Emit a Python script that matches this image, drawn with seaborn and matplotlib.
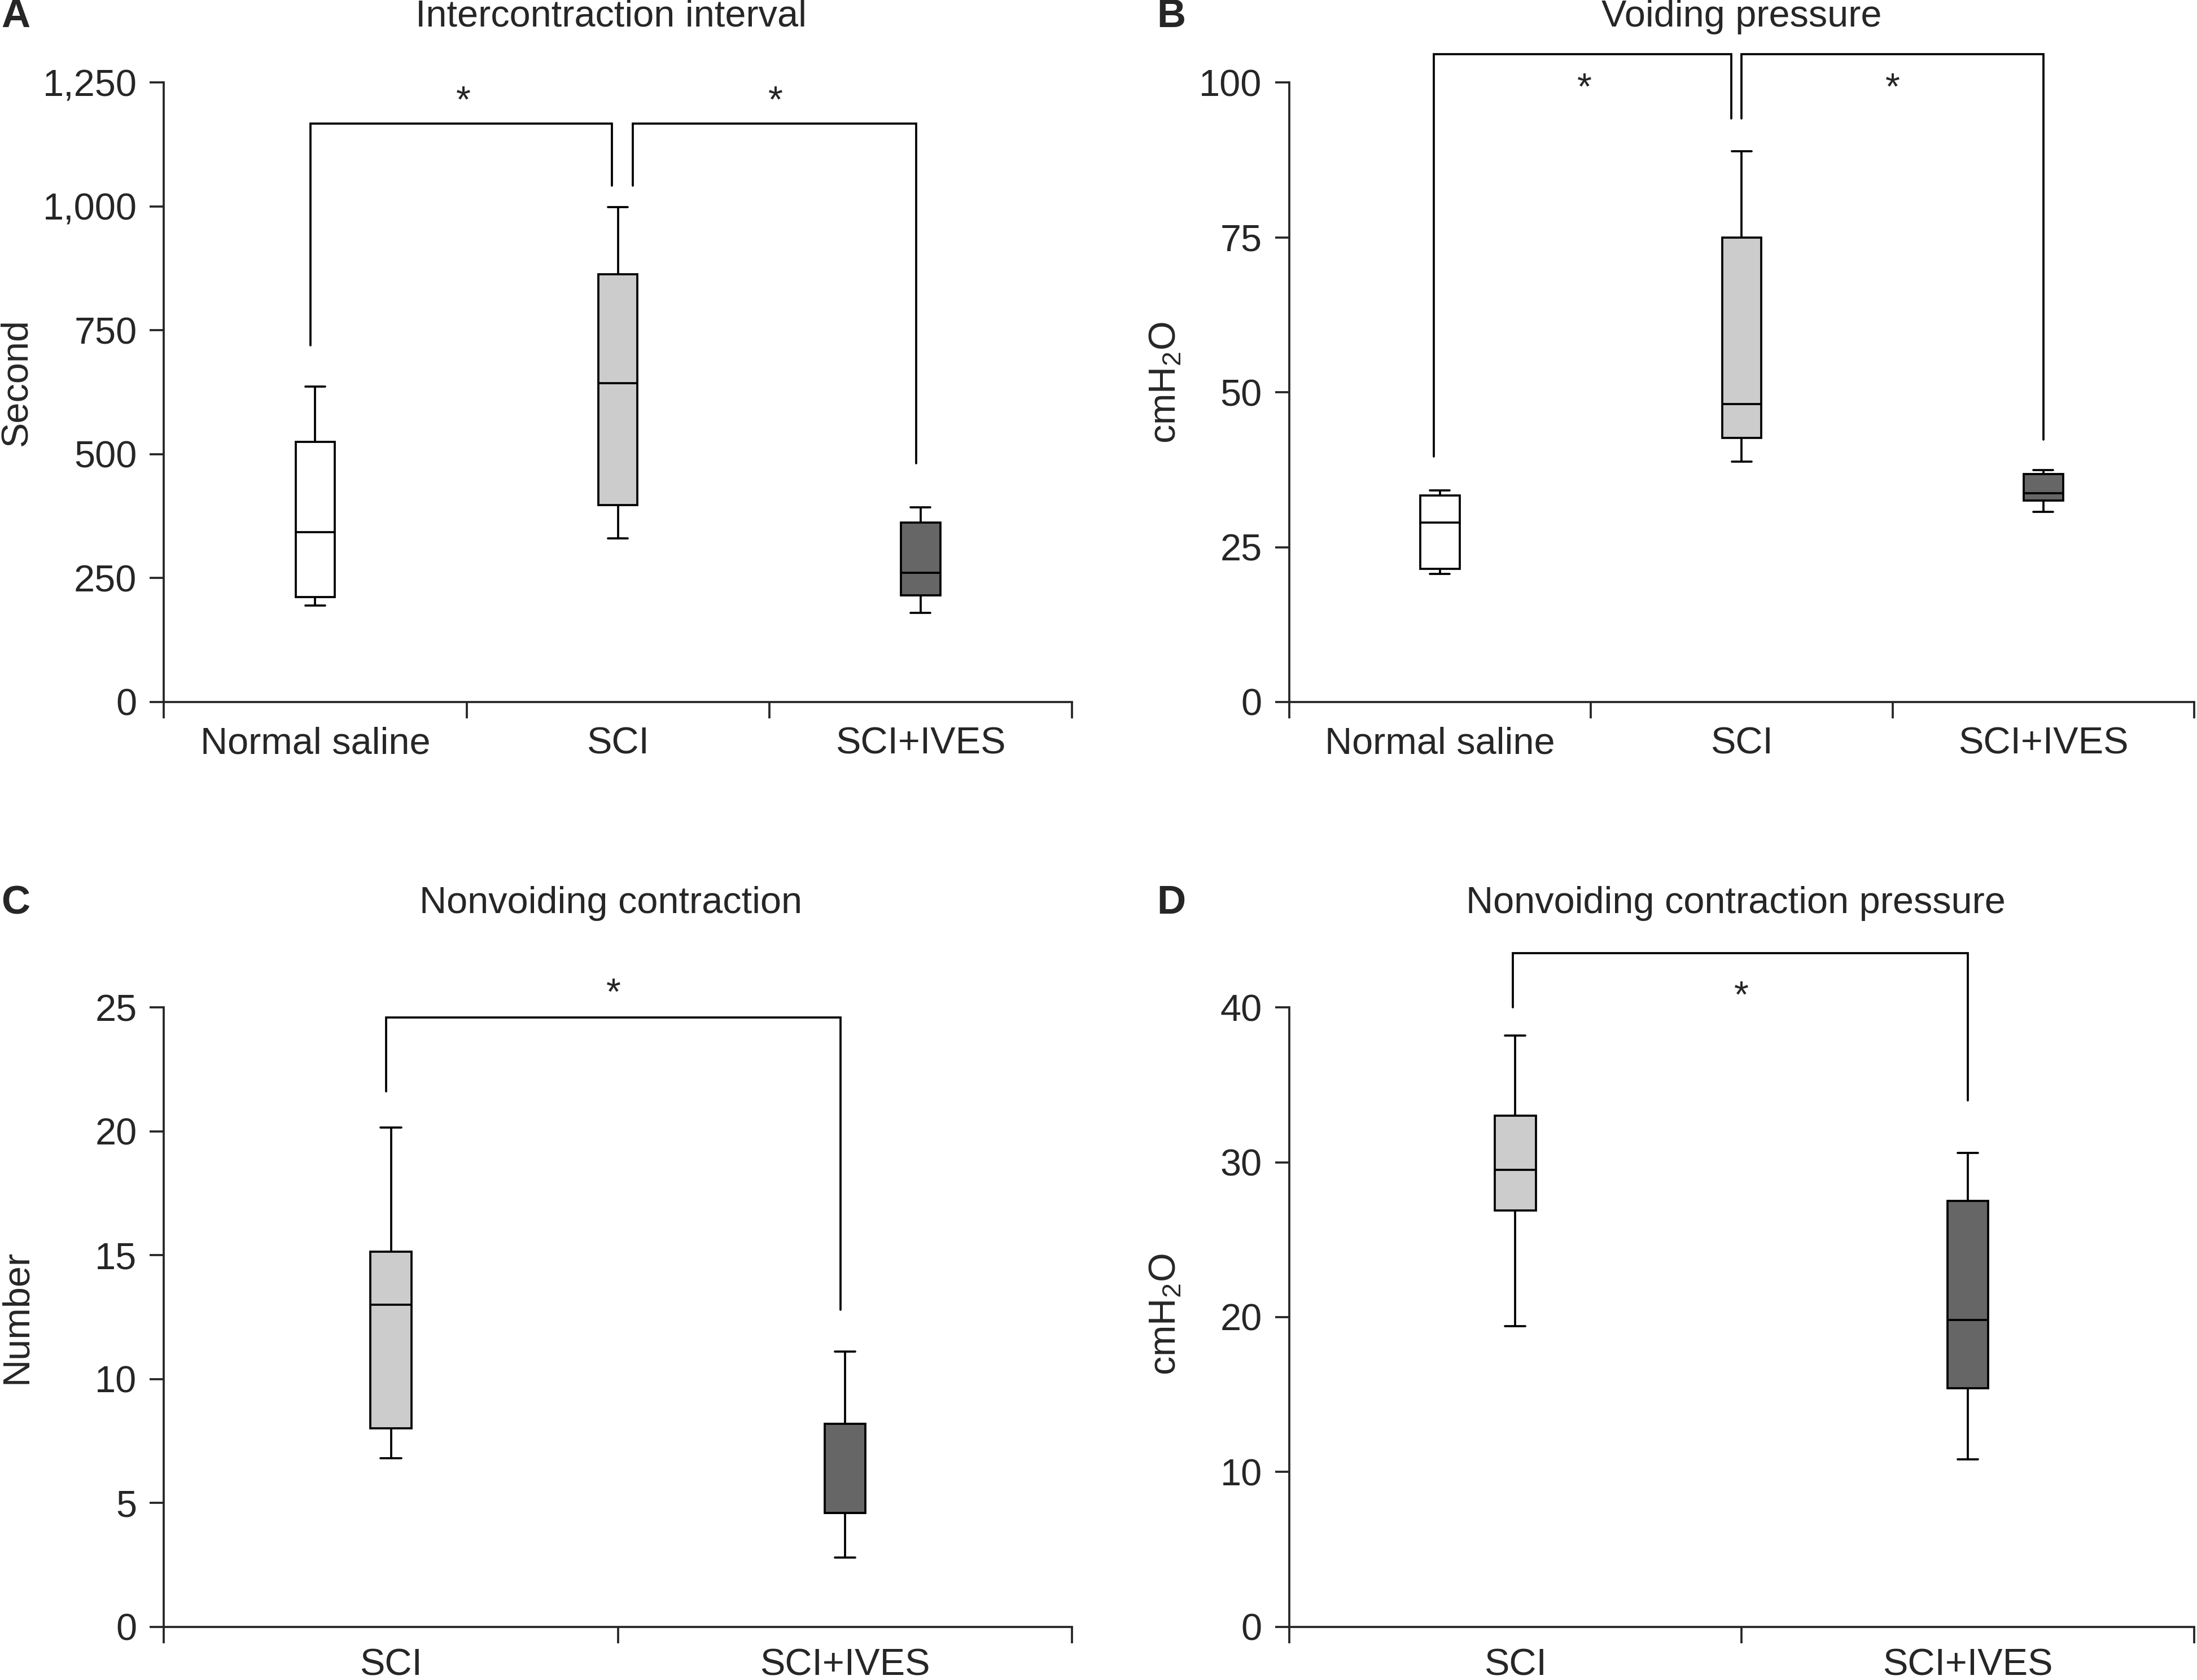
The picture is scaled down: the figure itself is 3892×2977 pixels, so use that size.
import numpy as np
import pandas as pd
import matplotlib
matplotlib.use("Agg")
import matplotlib.pyplot as plt
import seaborn as sns

# categories
groups_3 = ["Normal saline", "SCI", "SCI+IVES"]
groups_2 = ["SCI", "SCI+IVES"]

# five-number summaries: min, Q1, median, Q3, max
# A - Intercontraction interval (second)
ici_normal = [195, 212, 343, 525, 637]
ici_sci = [330, 397, 643, 863, 999]
ici_ives = [180, 215, 261, 362, 393]

# B - Voiding pressure (cmH2O)
vp_normal = [20.7, 21.5, 29.0, 33.3, 34.2]
vp_sci = [38.8, 42.6, 48.1, 75.0, 88.9]
vp_ives = [30.7, 32.5, 33.7, 36.8, 37.4]

# C - Nonvoiding contraction (number)
nvc_sci = [6.8, 8.0, 13.0, 15.15, 20.15]
nvc_ives = [2.8, 4.6, 4.6, 8.2, 11.1]

# D - Nonvoiding contraction pressure (cmH2O)
nvcp_sci = [19.4, 26.9, 29.5, 33.0, 38.2]
nvcp_ives = [10.8, 15.4, 19.8, 27.5, 30.6]

# significance brackets: (x left arm, x right arm, y left bottom, y top, y right bottom, star x, star y)
brackets_a = [(-0.015, 0.98, 720, 1167, 1042, 0.49, 1224),
              (1.05, 1.985, 1042, 1167, 482, 1.52, 1224)]
brackets_b = [(-0.02, 0.965, 39.6, 104.6, 94.2, 0.48, 100.0),
              (1.0, 2.0, 94.2, 104.6, 42.4, 1.5, 100.0)]
brackets_c = [(-0.01, 0.99, 21.6, 24.6, 12.8, 0.49, 25.8)]
brackets_d = [(-0.006, 1.0, 40.0, 43.5, 34.0, 0.5, 41.1)]

colors = {"Normal saline": "#ffffff", "SCI": "#cccccc", "SCI+IVES": "#666666"}

sns.set_style("ticks")
plt.rcParams["font.family"] = ["Liberation Sans", "DejaVu Sans"]
plt.rcParams["mathtext.default"] = "regular"
plt.rcParams["axes.linewidth"] = 0.9
FS = 16
LW = 0.9


def make_df(groups, series):
    return pd.DataFrame({
        "group": np.repeat(groups, [len(s) for s in series]),
        "value": np.concatenate([np.asarray(s, dtype=float) for s in series]),
    })


def draw_panel(ax, groups, series, width, ylim, yticks, yticklabels, brackets, label_pad=10.5):
    df = make_df(groups, series)
    sns.boxplot(data=df, x="group", y="value", hue="group", order=groups,
                hue_order=groups, palette=colors, width=width, whis=(0, 100),
                linecolor="black", linewidth=LW, saturation=1, legend=False,
                showfliers=False, ax=ax)
    ax.set_xlim(-0.5, len(groups) - 0.5)
    ax.set_ylim(*ylim)
    # ticks sit between the groups, the names sit under the boxes
    ax.set_xticks(np.arange(len(groups) + 1) - 0.5)
    ax.set_xticklabels([])
    ax.set_xticks(np.arange(len(groups)), minor=True)
    ax.set_xticklabels(groups, minor=True, fontsize=FS)
    ax.tick_params(axis="x", which="major", length=7, width=LW, direction="out")
    ax.tick_params(axis="x", which="minor", length=0, pad=label_pad)
    ax.set_yticks(yticks)
    ax.set_yticklabels(yticklabels, fontsize=FS)
    ax.tick_params(axis="y", length=6, width=LW, direction="out", pad=5.5)
    ax.set_xlabel("")
    ax.set_ylabel("")
    sns.despine(ax=ax)
    for sp in ax.spines.values():
        sp.set_linewidth(LW)

    for x0, x1, yl, yt, yr, sx, sy in brackets:
        ax.plot([x0, x0, x1, x1], [yl, yt, yt, yr], color="black",
                lw=LW, clip_on=False, solid_joinstyle="miter")
        ax.annotate("*", (sx, sy), xytext=(0, -7), textcoords="offset points",
                    ha="center", va="baseline", fontsize=FS, annotation_clip=False)


W, H = 3892, 2977
fig = plt.figure(figsize=(W / 300, H / 300), dpi=300)

# panel placement (pixel coords of the 1568x1199 view)
def axes_at(l, r, t, b):
    return fig.add_axes([l / 1568, 1 - b / 1199, (r - l) / 1568, (b - t) / 1199])

ax_a = axes_at(117, 765, 59, 501)
ax_b = axes_at(920, 1566, 59, 501)
ax_c = axes_at(117, 765, 719, 1161)
ax_d = axes_at(920, 1566, 719, 1161)

draw_panel(ax_a, groups_3, [ici_normal, ici_sci, ici_ives], 0.13, (0, 1250),
           [0, 250, 500, 750, 1000, 1250],
           ["0", "250", "500", "750", "1,000", "1,250"], brackets_a)
draw_panel(ax_b, groups_3, [vp_normal, vp_sci, vp_ives], 0.13, (0, 100),
           [0, 25, 50, 75, 100], ["0", "25", "50", "75", "100"], brackets_b)
draw_panel(ax_c, groups_2, [nvc_sci, nvc_ives], 0.09, (0, 25),
           [0, 5, 10, 15, 20, 25], ["0", "5", "10", "15", "20", "25"], brackets_c,
           label_pad=9)
draw_panel(ax_d, groups_2, [nvcp_sci, nvcp_ives], 0.09, (0, 40),
           [0, 10, 20, 30, 40], ["0", "10", "20", "30", "40"], brackets_d,
           label_pad=9)

# titles and panel letters
fig.text(436 / 1568, 1 - 12 / 1199, "Intercontraction interval", ha="center", va="center", fontsize=FS)
fig.text(1243 / 1568, 1 - 12 / 1199, "Voiding pressure", ha="center", va="center", fontsize=FS)
fig.text(436 / 1568, 1 - 645 / 1199, "Nonvoiding contraction", ha="center", va="center", fontsize=FS)
fig.text(1239 / 1568, 1 - 645 / 1199, "Nonvoiding contraction pressure", ha="center", va="center", fontsize=FS)

for letter, x, y in [("A", 11, 12), ("B", 836, 12), ("C", 11, 645), ("D", 836, 645)]:
    fig.text(x / 1568, 1 - y / 1199, letter, ha="center", va="center",
             fontsize=17, fontweight="bold",
             family=["Liberation Sans Narrow", "Liberation Sans"])

# y axis labels
fig.text(12 / 1568, 1 - 273 / 1199, "Second", rotation=90, ha="center", va="center", fontsize=FS)
fig.text(832 / 1568, 1 - 273 / 1199, "cmH$_2$O", rotation=90, ha="center", va="center", fontsize=FS)
fig.text(12 / 1568, 1 - 940 / 1199, "Number", rotation=90, ha="center", va="center", fontsize=FS)
fig.text(832 / 1568, 1 - 938 / 1199, "cmH$_2$O", rotation=90, ha="center", va="center", fontsize=FS)

fig.savefig("out.png", dpi=300, facecolor="white")
